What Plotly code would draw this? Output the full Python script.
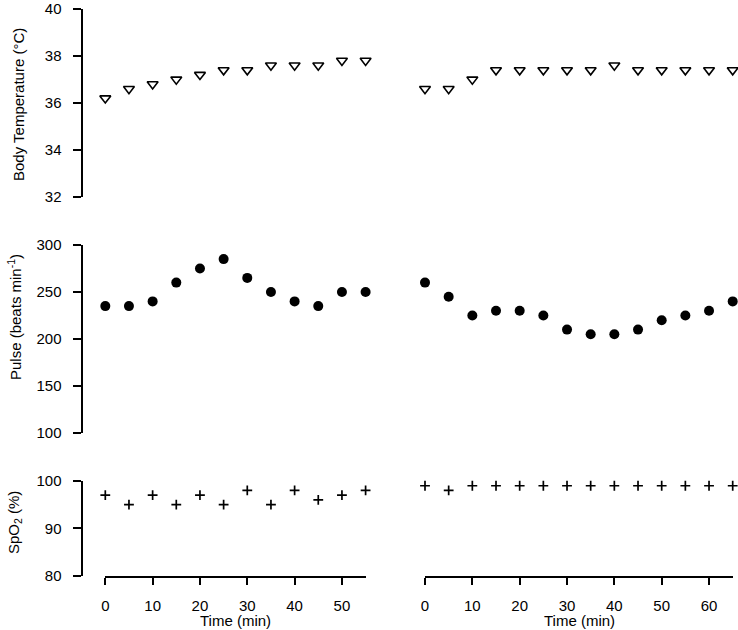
import plotly.graph_objects as go

W, H = 738, 630

time_left = [0, 5, 10, 15, 20, 25, 30, 35, 40, 45, 50, 55]
time_right = [0, 5, 10, 15, 20, 25, 30, 35, 40, 45, 50, 55, 60, 65]

temp_left = [36.2, 36.6, 36.8, 37.0, 37.2, 37.4, 37.4, 37.6, 37.6, 37.6, 37.8, 37.8]
temp_right = [36.6, 36.6, 37.0, 37.4, 37.4, 37.4, 37.4, 37.4, 37.6, 37.4, 37.4, 37.4, 37.4, 37.4]

pulse_left = [235, 235, 240, 260, 275, 285, 265, 250, 240, 235, 250, 250]
pulse_right = [260, 245, 225, 230, 230, 225, 210, 205, 205, 210, 220, 225, 230, 240]

spo2_left = [97, 95, 97, 95, 97, 95, 98, 95, 98, 96, 97, 98]
spo2_right = [99, 98, 99, 99, 99, 99, 99, 99, 99, 99, 99, 99, 99, 99]

temp_ticks = [32, 34, 36, 38, 40]
pulse_ticks = [100, 150, 200, 250, 300]
spo2_ticks = [80, 90, 100]
xticks_left = [0, 10, 20, 30, 40, 50]
xticks_right = [0, 10, 20, 30, 40, 50, 60]


def px(x):
    return x / W


def py(y):
    return 1 - y / H


FONT = dict(family="Liberation Sans, Arial, sans-serif", size=15, color="black")

fig = go.Figure()

tri = dict(symbol="triangle-down-open", size=9.5, color="black", line=dict(width=1.6, color="black"))
dot = dict(symbol="circle", size=10, color="black", line=dict(width=0))
crs = dict(symbol="cross-thin", size=7, color="black", line=dict(width=1.7, color="black"))

fig.add_trace(go.Scatter(x=time_left, y=temp_left, mode="markers", marker=tri, xaxis="x", yaxis="y", cliponaxis=False))
fig.add_trace(go.Scatter(x=time_right, y=temp_right, mode="markers", marker=tri, xaxis="x2", yaxis="y", cliponaxis=False))
fig.add_trace(go.Scatter(x=time_left, y=pulse_left, mode="markers", marker=dot, xaxis="x", yaxis="y2", cliponaxis=False))
fig.add_trace(go.Scatter(x=time_right, y=pulse_right, mode="markers", marker=dot, xaxis="x2", yaxis="y2", cliponaxis=False))
fig.add_trace(go.Scatter(x=time_left, y=spo2_left, mode="markers", marker=crs, xaxis="x", yaxis="y3", cliponaxis=False))
fig.add_trace(go.Scatter(x=time_right, y=spo2_right, mode="markers", marker=crs, xaxis="x2", yaxis="y3", cliponaxis=False))

yax_common = dict(
    anchor="free", position=px(81.5), showline=True, linecolor="black", linewidth=2,
    ticks="outside", ticklen=8, tickwidth=2, tickcolor="black", showgrid=False, zeroline=False,
    tickfont=FONT, ticklabelstandoff=8, automargin=False,
)
xax_common = dict(
    anchor="y3", showline=True, linecolor="black", linewidth=2,
    ticks="outside", ticklen=7, tickwidth=2, tickcolor="black", showgrid=False, zeroline=False,
    tickfont=FONT, ticklabelstandoff=8, automargin=False,
)

fig.update_layout(
    width=W, height=H,
    margin=dict(l=0, r=0, t=0, b=0),
    paper_bgcolor="white", plot_bgcolor="white",
    showlegend=False,
    font=FONT,
    xaxis=dict(domain=[px(105.3), px(365.6)], range=[0, 55], tickvals=xticks_left, **xax_common),
    xaxis2=dict(domain=[px(425), px(732.7)], range=[0, 65], tickvals=xticks_right, **xax_common),
    yaxis=dict(domain=[py(197), py(9)], range=[32, 40], tickvals=temp_ticks, **yax_common),
    yaxis2=dict(domain=[py(433), py(245)], range=[100, 300], tickvals=pulse_ticks, **yax_common),
    yaxis3=dict(domain=[py(575.5), py(481)], range=[80, 100], tickvals=spo2_ticks, **yax_common),
)

annots = [
    dict(text="Body Temperature (°C)", x=px(19), y=py(105), textangle=-90),
    dict(text="Pulse (beats min<sup>-1</sup>)", x=px(14), y=py(317), textangle=-90),
    dict(text="SpO<sub>2</sub> (%)", x=px(14), y=py(523), textangle=-90),
    dict(text="Time (min)", x=px(235), y=py(620), textangle=0),
    dict(text="Time (min)", x=px(579), y=py(620), textangle=0),
]
for a in annots:
    fig.add_annotation(xref="paper", yref="paper", showarrow=False, font=FONT,
                       xanchor="center", yanchor="middle", **a)

fig.write_html(
    "out.html",
    config={"displayModeBar": False},
    post_script="document.body.style.margin='0';document.body.style.padding='0';document.body.style.overflow='hidden';",
)
